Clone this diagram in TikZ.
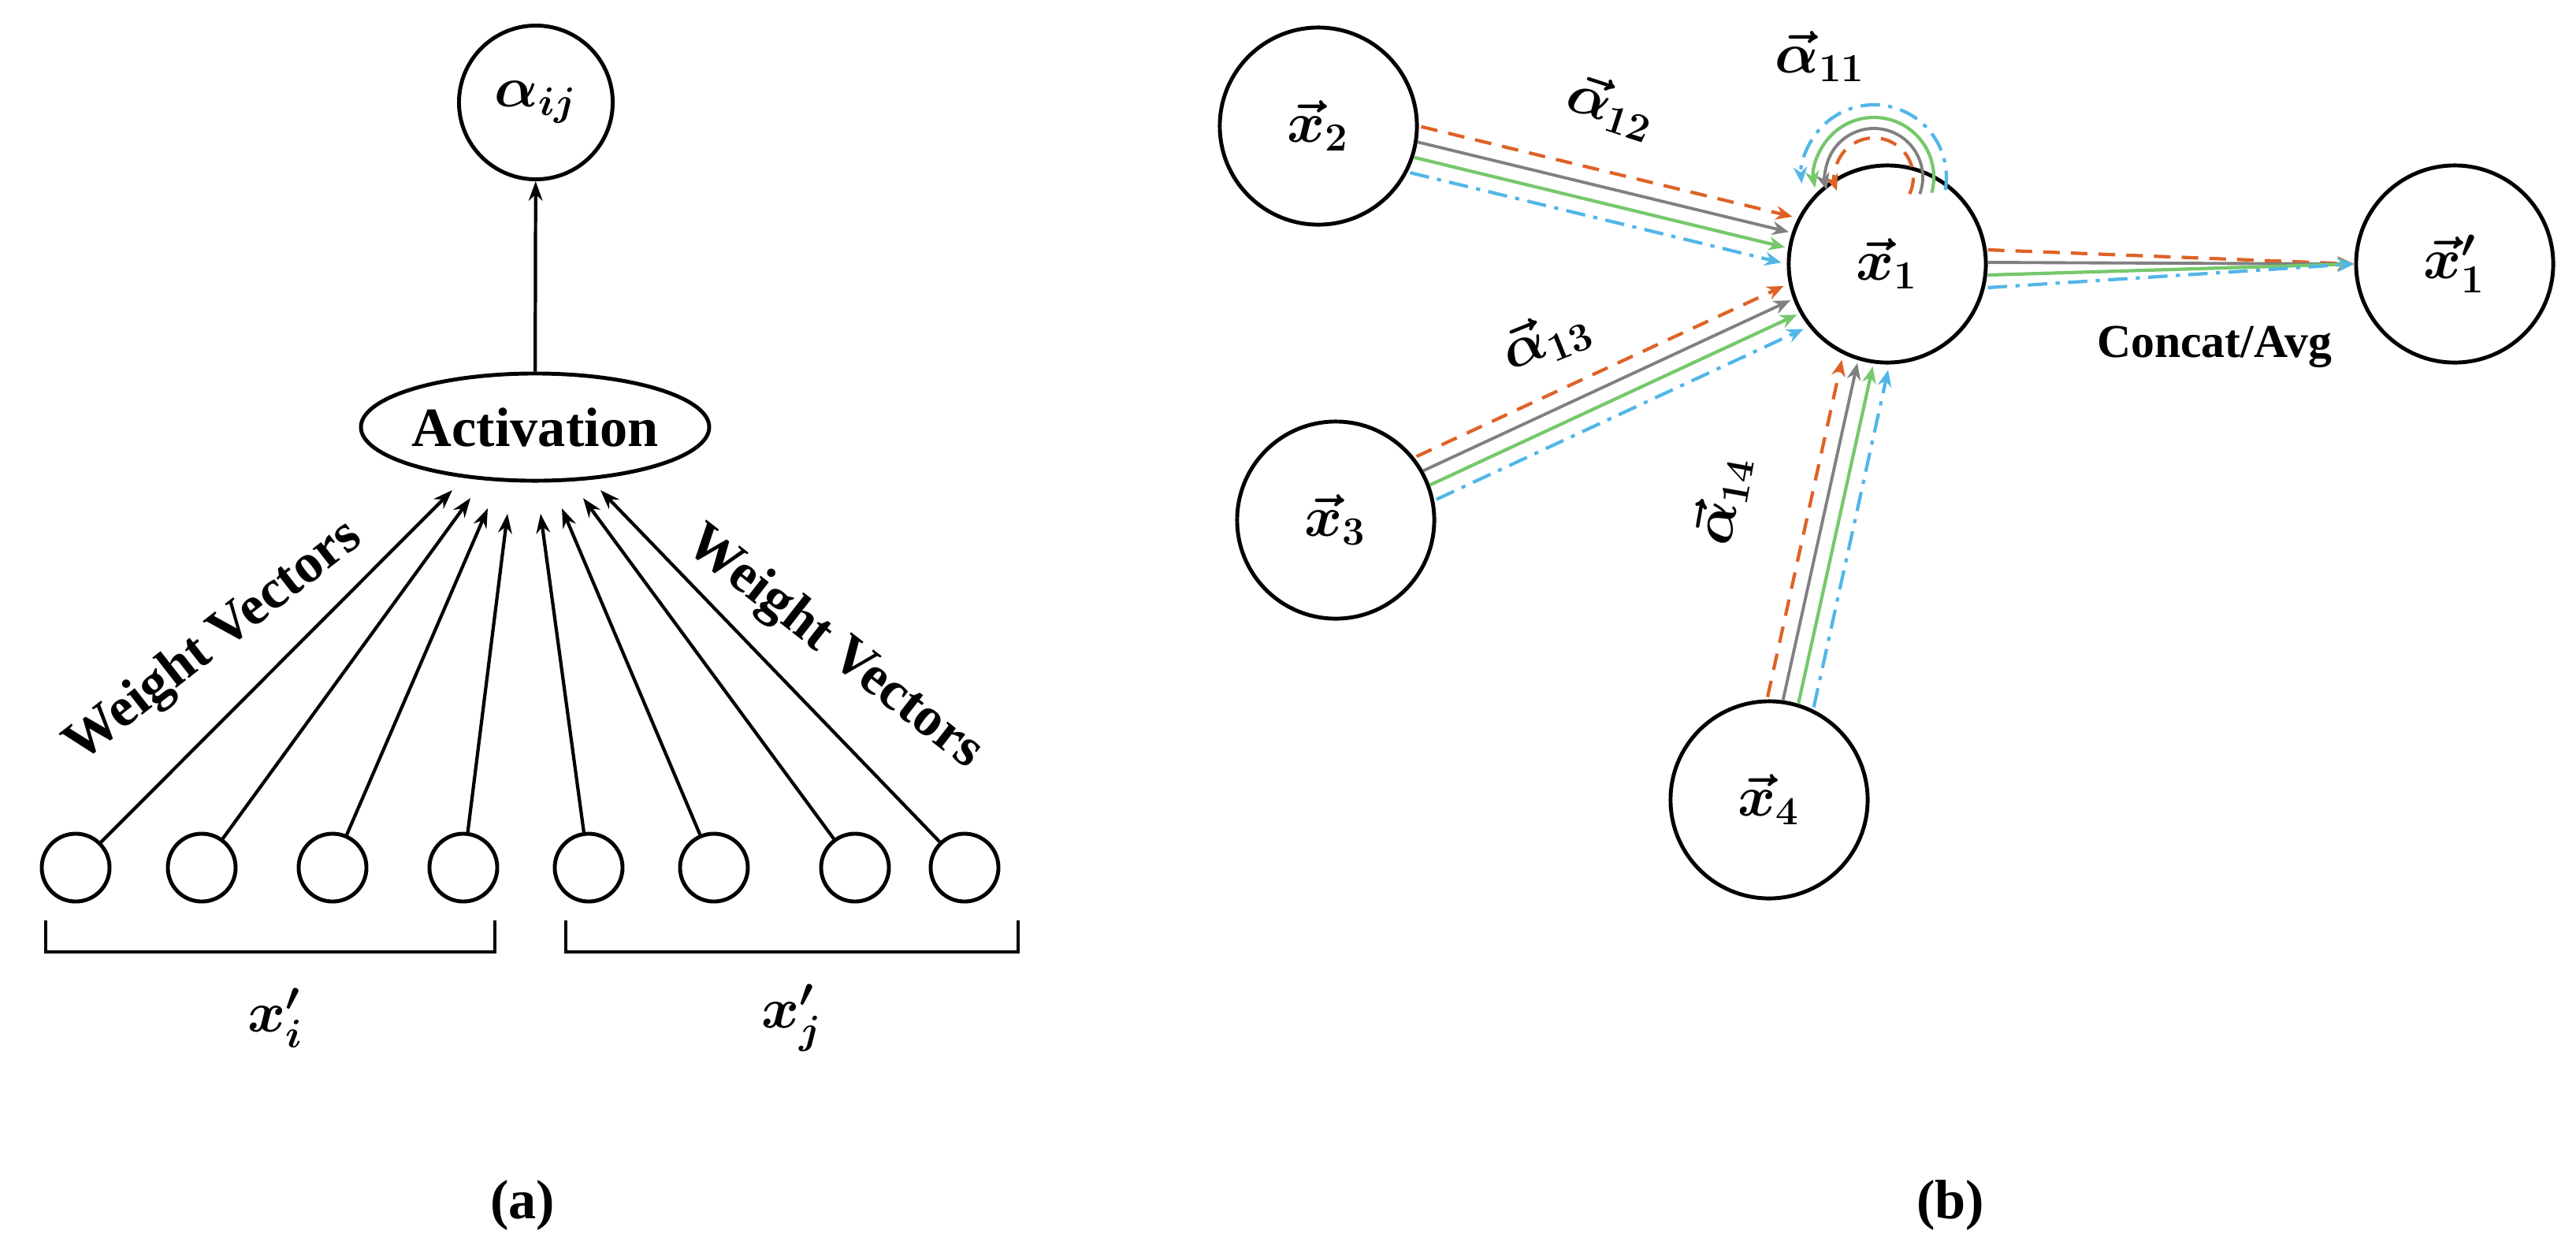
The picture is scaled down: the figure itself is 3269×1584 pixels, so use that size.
\documentclass[tikz,border=0pt]{standalone}
\usepackage{amsmath}
\usepackage{amssymb}
\usepackage{bm}
\usepackage{fontspec}
\setmainfont{Liberation Serif}
\usepackage{tikz}
\usetikzlibrary{arrows.meta,calc,shapes.geometric}

\definecolor{edgeorange}{RGB}{222,98,38}
\definecolor{edgegray}{RGB}{128,128,128}
\definecolor{edgegreen}{RGB}{118,200,108}
\definecolor{edgeblue}{RGB}{82,182,232}

\tikzset{
  unit/.style={circle, draw, line width=1.4pt, minimum size=0.86cm, inner sep=0pt},
  big/.style={circle, draw, line width=1.4pt, minimum size=2.5cm, inner sep=0pt, font=\fontsize{20}{24}\selectfont},
  lbl/.style={font=\fontsize{20}{24}\selectfont\bfseries},
  tip/.style={-{Stealth[length=7pt,width=5pt]}},
  ctip/.style={-{Stealth[length=6pt,width=5pt]}},
  oed/.style={ctip, edgeorange, line width=1.2pt, dash pattern=on 6pt off 4pt},
  ged/.style={ctip, edgegray, line width=1.1pt},
  ned/.style={ctip, edgegreen, line width=1.2pt},
  bed/.style={ctip, edgeblue, line width=1.2pt, dash pattern=on 7pt off 3pt on 1.5pt off 3pt},
}

% four parallel coloured connectors between two big nodes
\newcommand{\fouredge}[2]{%
  \draw[oed, shorten <=1.27cm, shorten >=1.31cm] ($(#1)!0.3cm!90:(#2)$) -- ($(#2)!0.3cm!-90:(#1)$);
  \draw[ged, shorten <=1.27cm, shorten >=1.31cm] ($(#1)!0.1cm!90:(#2)$) -- ($(#2)!0.1cm!-90:(#1)$);
  \draw[ned, shorten <=1.27cm, shorten >=1.31cm] ($(#1)!-0.1cm!90:(#2)$) -- ($(#2)!-0.1cm!-90:(#1)$);
  \draw[bed, shorten <=1.27cm, shorten >=1.31cm] ($(#1)!-0.3cm!90:(#2)$) -- ($(#2)!-0.3cm!-90:(#1)$);
}

\begin{document}
\begin{tikzpicture}[x=0.01cm, y=-0.01cm]
  \useasboundingbox (0,0) rectangle (3269,1584);

  % (a)
  \node[circle, draw, line width=1.4pt, minimum size=1.95cm, inner sep=0pt, lbl] (alpha) at (680,130) {$\bm{\alpha_{ij}}$};
  \node[ellipse, draw, line width=1.4pt, minimum width=4.34cm, minimum height=1.36cm, inner sep=0pt, lbl] (act) at (679,542) {Activation};
  \draw[tip, line width=1.2pt] (act) -- (alpha);

  \foreach \n/\x/\tx/\ty in {1/96/574/622, 2/256/597/632, 3/422/619/645, 4/588/644/652,
                             5/747/686/652, 6/906/713/645, 7/1085/740/632, 8/1224/762/622} {
    \node[unit] (c\n) at (\x,1101) {};
    \coordinate (t\n) at (\tx,\ty);
    \draw[tip, line width=1.2pt] (c\n) -- (t\n);
  }

  \node[lbl, rotate=38] (wl) at (272,815) {Weight Vectors};
  \node[lbl, rotate=-38] (wr) at (1058,823) {Weight Vectors};

  \draw[line width=1.2pt] (58,1168) -- (58,1208) -- (628,1208) -- (628,1168);
  \draw[line width=1.2pt] (718,1168) -- (718,1208) -- (1292,1208) -- (1292,1168);
  \node[lbl] (xi) at (350,1292) {$\bm{x'_i}$};
  \node[lbl] (xj) at (1005,1292) {$\bm{x'_j}$};
  \node[lbl] (capa) at (663,1530) {(a)};

  % (b)
  \node[big] (x1) at (2395,335) {$\bm{\vec{x}_1}$};
  \node[big] (x2) at (1673,160) {$\bm{\vec{x}_2}$};
  \node[big] (x3) at (1695,660) {$\bm{\vec{x}_3}$};
  \node[big] (x4) at (2245,1015) {$\bm{\vec{x}_4}$};
  \node[big] (x1p) at (3115,335) {$\bm{\vec{x}'_1}$};

  \fouredge{x2}{x1}
  \fouredge{x3}{x1}
  \fouredge{x4}{x1}

  % output edge, converging on x'_1
  \draw[oed] ($(x1.east)+(0,-18)$) -- (x1p.west);
  \draw[ged] ($(x1.east)+(0,-2)$) -- (x1p.west);
  \draw[ned] ($(x1.east)+(0,14)$) -- (x1p.west);
  \draw[bed] ($(x1.east)+(0,30)$) -- (x1p.west);

  % self loop
  \coordinate (lp) at (2378,225);
  \draw[oed] ([shift={(25:50)}]lp) arc (25:-200:50);
  \draw[ged] ([shift={(20:62)}]lp) arc (20:-195:62);
  \draw[ned] ([shift={(15:76)}]lp) arc (15:-190:76);
  \draw[bed] ([shift={(10:92)}]lp) arc (10:-185:92);

  \node[lbl] (a11) at (2310,72) {$\bm{\vec{\alpha}_{11}}$};
  \node[lbl, rotate=-18] (a12) at (2045,135) {$\bm{\vec{\alpha}_{12}}$};
  \node[lbl, rotate=22] (a13) at (1962,430) {$\bm{\vec{\alpha}_{13}}$};
  \node[lbl, rotate=80] (a14) at (2185,635) {$\bm{\vec{\alpha}_{14}}$};
  \node[font=\fontsize{17}{20}\selectfont\bfseries] (cat) at (2810,440) {Concat/Avg};
  \node[lbl] (capb) at (2475,1530) {(b)};
\end{tikzpicture}
\end{document}
